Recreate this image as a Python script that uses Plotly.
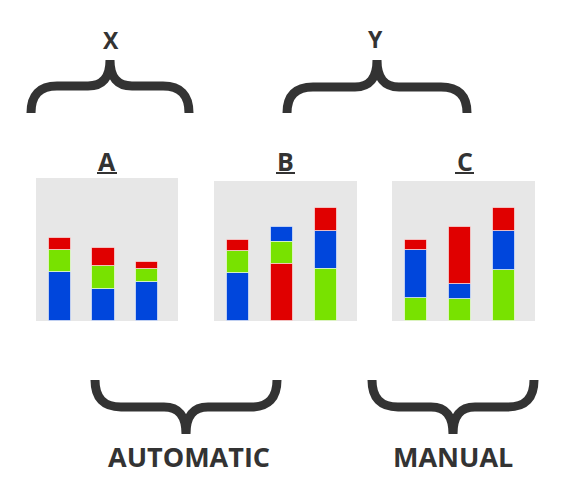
import plotly.graph_objects as go

W, H = 571, 500

# ---- data ----
categories = ["1", "2", "3"]

A_blue = [49, 32, 39]
A_green = [22, 23, 13]
A_red = [12, 18, 7]
A_order = [["blue", "green", "red"], ["blue", "green", "red"], ["blue", "green", "red"]]

B_blue = [48, 15, 38]
B_green = [22, 22, 52]
B_red = [11, 57, 23]
B_order = [["blue", "green", "red"], ["red", "green", "blue"], ["green", "blue", "red"]]

C_green = [23, 22, 51]
C_blue = [48, 15, 39]
C_red = [10, 57, 23]
C_order = [["green", "blue", "red"], ["green", "blue", "red"], ["green", "blue", "red"]]

panel_titles = ["A", "B", "C"]
top_labels = ["X", "Y"]
bottom_labels = ["AUTOMATIC", "MANUAL"]

COLORS = {"blue": "#0046DC", "green": "#78E200", "red": "#E00000"}
DARK = "#333333"


def X(px):
    return px / W


def Y(py):
    return 1 - py / H


panels = [
    dict(series={"blue": A_blue, "green": A_green, "red": A_red}, order=A_order,
         xd=(36, 178), yd=(178, 321)),
    dict(series={"blue": B_blue, "green": B_green, "red": B_red}, order=B_order,
         xd=(214, 357), yd=(181, 321)),
    dict(series={"green": C_green, "blue": C_blue, "red": C_red}, order=C_order,
         xd=(392, 535), yd=(181, 321)),
]

fig = go.Figure()
layout_axes = {}
for i, p in enumerate(panels, start=1):
    sfx = "" if i == 1 else str(i)
    # compute bases from stacking order
    for cname, vals in p["series"].items():
        bases = []
        for j in range(len(categories)):
            b = 0
            for c in p["order"][j]:
                if c == cname:
                    break
                b += p["series"][c][j]
            bases.append(b)
        fig.add_trace(go.Bar(
            x=categories, y=vals, base=bases,
            marker=dict(color=COLORS[cname], line=dict(color="rgba(255,255,255,0.55)", width=1)),
            width=0.51, xaxis="x" + sfx, yaxis="y" + sfx, showlegend=False,
            hoverinfo="skip",
        ))
    height_px = p["yd"][1] - p["yd"][0]
    layout_axes["xaxis" + sfx] = dict(
        domain=[X(p["xd"][0]), X(p["xd"][1])], range=[-0.55, 2.71],
        showticklabels=False, showgrid=False, zeroline=False, ticks="",
        anchor="y" + sfx, fixedrange=True,
    )
    layout_axes["yaxis" + sfx] = dict(
        domain=[Y(p["yd"][1]), Y(p["yd"][0])], range=[0, height_px],
        showticklabels=False, showgrid=False, zeroline=False, ticks="",
        anchor="x" + sfx, fixedrange=True,
    )


def brace(x0, x1, yE, yM, yT, r=26, r2=22):
    xc = (x0 + x1) / 2
    return (f"M {X(x0)},{Y(yE)} Q {X(x0)},{Y(yM)} {X(x0 + r)},{Y(yM)} "
            f"L {X(xc - r2)},{Y(yM)} Q {X(xc)},{Y(yM)} {X(xc)},{Y(yT)} "
            f"Q {X(xc)},{Y(yM)} {X(xc + r2)},{Y(yM)} "
            f"L {X(x1 - r)},{Y(yM)} Q {X(x1)},{Y(yM)} {X(x1)},{Y(yE)}")


shapes = []
for (x0, x1, yE, yM, yT) in [(31, 189, 113, 86, 60), (287, 467, 113, 87, 60),
                             (95, 277, 380, 407, 434), (372, 534, 380, 407, 434)]:
    shapes.append(dict(type="path", path=brace(x0, x1, yE, yM, yT),
                       xref="paper", yref="paper",
                       line=dict(color=DARK, width=9), fillcolor="rgba(0,0,0,0)"))

annotations = []
title_pos = [(106.5, 97, 117), (285.5, 276, 295), (465, 455, 474)]
for t, (cx, ux0, ux1) in zip(panel_titles, title_pos):
    annotations.append(dict(text=t, x=X(cx), y=Y(161), xref="paper", yref="paper",
                            xanchor="center", yanchor="middle", showarrow=False,
                            font=dict(family="Open Sans", size=25, color=DARK, weight=700)))
    shapes.append(dict(type="line", x0=X(ux0), x1=X(ux1), y0=Y(173), y1=Y(173),
                       xref="paper", yref="paper", line=dict(color=DARK, width=2)))

for t, (cx, cy) in zip(top_labels, [(110.5, 40.5), (375.5, 39.5)]):
    annotations.append(dict(text=t, x=X(cx), y=Y(cy), xref="paper", yref="paper",
                            xanchor="center", yanchor="middle", showarrow=False,
                            font=dict(family="Open Sans", size=23, color=DARK, weight=700)))

for t, (cx, cy) in zip(bottom_labels, [(189, 456), (453.5, 456)]):
    annotations.append(dict(text=t, x=X(cx), y=Y(cy), xref="paper", yref="paper",
                            xanchor="center", yanchor="middle", showarrow=False,
                            font=dict(family="Open Sans", size=27, color=DARK, weight=700)))

fig.update_layout(
    width=W, height=H, margin=dict(l=0, r=0, t=0, b=0),
    paper_bgcolor="white", plot_bgcolor="#E7E7E7",
    barmode="overlay", bargap=0,
    shapes=shapes, annotations=annotations,
    **layout_axes,
)

fig.write_html("out.html", config={"displayModeBar": False})
